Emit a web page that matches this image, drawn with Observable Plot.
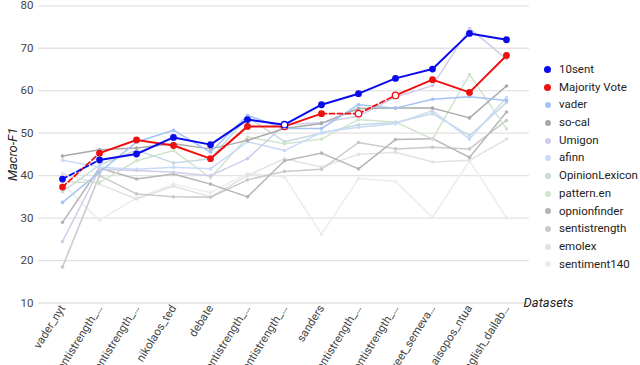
<!DOCTYPE html>
<html>
<head>
<meta charset="utf-8">
<script src="https://cdn.jsdelivr.net/npm/d3@7"></script>
<script src="https://cdn.jsdelivr.net/npm/@observablehq/plot@0.6"></script>
<style>
  body { margin: 0; background: #fff; font-family: Roboto, "Noto Sans", sans-serif; }
  #wrap { position: relative; width: 640px; height: 365px; }
  #legend { position: absolute; left: 544px; top: 61px; font-size: 11.5px; color: #222; }
  #legend .item { height: 17.7px; line-height: 17.7px; white-space: nowrap; display: flex; align-items: center; }
  #legend .sw { display: inline-block; border-radius: 50%; margin-right: 5px; }
</style>
</head>
<body>
<div id="wrap"><div id="chart"></div><div id="legend"></div></div>
<script>
const datasets = ["vader_nyt", "sentistrength_…", "sentistrength_…", "nikolaos_ted", "debate",
  "sentistrength_…", "sentistrength_…", "sanders", "sentistrength_…", "sentistrength_…",
  "tweet_semeva…", "aisopos_ntua", "english_dailab…"];
const seriesNames = ["10sent", "Majority Vote", "vader", "so-cal", "Umigon", "afinn",
  "OpinionLexicon", "pattern.en", "opnionfinder", "sentistrength", "emolex", "sentiment140"];
const seriesColors = ["#0a0aee", "#ee1010", "#a4c2f4", "#a9a9a9", "#cfcde9", "#c9daf8",
  "#c5d9df", "#d0e5cc", "#b5b5b5", "#c9c9c9", "#e2e2e2", "#ececec"];
const yTicks = [10, 20, 30, 40, 50, 60, 70, 80];

const tenSent        = [39.2, 43.7, 45.1, 49.0, 47.3, 53.2, 52.0, 56.7, 59.3, 62.9, 65.1, 73.5, 72.0];
const majorityVote   = [37.3, 45.3, 48.4, 47.1, 44.0, 51.6, 51.6, 54.6, 54.6, 58.9, 62.6, 59.6, 68.3];
const vader          = [33.7, 40.8, 47.9, 50.7, 45.5, 54.2, 51.1, 51.1, 56.7, 55.9, 58.0, 58.6, 57.7];
const soCal          = [44.6, 46.1, 46.5, 47.5, 46.3, 48.3, 51.1, 52.3, 55.8, 55.9, 55.9, 53.6, 61.1];
const umigon         = [24.5, 41.5, 41.2, 40.8, 40.0, 44.0, 52.0, 52.5, 54.0, 58.5, 61.2, 74.7, 67.5];
const afinn          = [43.6, 42.0, 41.5, 42.0, 41.6, 48.0, 45.9, 50.2, 51.4, 52.2, 55.3, 48.6, 58.4];
const opinionLexicon = [36.2, 42.5, 46.0, 43.0, 44.0, 53.8, 48.0, 50.0, 52.0, 52.5, 54.6, 49.4, 57.2];
const patternEn      = [38.5, 38.4, 43.5, 45.9, 39.5, 49.1, 47.5, 48.6, 53.2, 52.6, 48.6, 63.8, 51.0];
const opnionfinder   = [29.0, 41.8, 39.2, 40.4, 38.0, 35.0, 43.5, 45.3, 41.6, 48.5, 48.7, 44.3, 55.0];
const sentistrength  = [18.5, 40.0, 35.7, 35.0, 34.9, 39.0, 41.0, 41.5, 47.8, 46.3, 46.7, 46.3, 53.0];
const emolex         = [40.5, 38.0, 34.5, 37.5, 35.0, 40.0, 44.0, 42.0, 45.0, 45.5, 43.2, 43.6, 48.6];
const sentiment140   = [38.0, 29.5, 34.7, 38.0, 36.0, 40.5, 39.7, 26.2, 39.3, 38.6, 30.2, 43.5, 30.1];

// uncertain (hollow) points and dashed segments (segment k joins point k and k+1)
const tenSentHollow = [6];
const tenSentDashed = [0];
const majorityHollow = [6, 8, 9];
const majorityDashed = [0, 7, 8];

const allValues = [tenSent, majorityVote, vader, soCal, umigon, afinn, opinionLexicon,
  patternEn, opnionfinder, sentistrength, emolex, sentiment140];

// light series rows, drawn with the last series at the bottom
const lightRows = [];
for (let s = allValues.length - 1; s >= 2; s--) {
  allValues[s].forEach((v, i) => lightRows.push({name: seriesNames[s], i, v}));
}

const mainDefs = [
  {s: 1, hollow: majorityHollow, dashed: majorityDashed},
  {s: 0, hollow: tenSentHollow, dashed: tenSentDashed}
];
const segRows = [], dotRows = [];
for (const {s, hollow, dashed} of mainDefs) {
  const vals = allValues[s], name = seriesNames[s];
  for (let k = 0; k < vals.length - 1; k++) {
    const d = dashed.includes(k);
    segRows.push({name, seg: name + k, i: k, v: vals[k], dashed: d});
    segRows.push({name, seg: name + k, i: k + 1, v: vals[k + 1], dashed: d});
  }
  vals.forEach((v, i) => dotRows.push({name, i, v, hollow: hollow.includes(i)}));
}

const chart = Plot.plot({
  width: 640,
  height: 365,
  marginLeft: 38,
  marginRight: 111,
  marginTop: 5.3,
  marginBottom: 62.5,
  style: {fontFamily: "Roboto, 'Noto Sans', sans-serif", fontSize: "11.5px", color: "#444", background: "#fff", overflow: "visible"},
  x: {type: "point", domain: d3.range(datasets.length), padding: 0.5,
      tickFormat: i => datasets[i], tickRotate: -58, tickSize: 0, tickPadding: 3, label: null},
  y: {domain: [10, 80], ticks: yTicks, tickSize: 0, tickPadding: 5, label: null},
  color: {domain: seriesNames, range: seriesColors},
  marks: [
    Plot.ruleY(yTicks, {stroke: "#e2e2e2", strokeWidth: 1.3}),
    Plot.line(lightRows, {x: "i", y: "v", z: "name", stroke: "name", strokeWidth: 1.5}),
    Plot.dot(lightRows, {x: "i", y: "v", fill: "name", r: 1.8}),
    Plot.line(segRows.filter(d => !d.dashed), {x: "i", y: "v", z: "seg", stroke: "name", strokeWidth: 2}),
    Plot.line(segRows.filter(d => d.dashed), {x: "i", y: "v", z: "seg", stroke: "name", strokeWidth: 1.8, strokeDasharray: "5,3"}),
    Plot.dot(dotRows.filter(d => !d.hollow), {x: "i", y: "v", fill: "name", r: 3.4}),
    Plot.dot(dotRows.filter(d => d.hollow), {x: "i", y: "v", stroke: "name", fill: "white", r: 3.2, strokeWidth: 1.3}),
    Plot.text(["Macro-F1"], {text: d => d, frameAnchor: "left", textAnchor: "middle", rotate: -90, dx: -26, fontSize: 13, fontStyle: "italic", fill: "#222"}),
    Plot.text(["Datasets"], {text: d => d, frameAnchor: "bottom-right", textAnchor: "start", dx: -6, dy: 4, fontSize: 13, fontStyle: "italic", fill: "#222"})
  ]
});
document.getElementById("chart").appendChild(chart);

const legend = document.getElementById("legend");
seriesNames.forEach((name, s) => {
  const item = document.createElement("div");
  item.className = "item";
  const sw = document.createElement("span");
  sw.className = "sw";
  const size = s < 2 ? 7 : 6;
  sw.style.width = size + "px";
  sw.style.height = size + "px";
  sw.style.marginLeft = s < 2 ? "0px" : "0.5px";
  sw.style.marginRight = s < 2 ? "8px" : "8.5px";
  sw.style.background = seriesColors[s];
  item.appendChild(sw);
  item.appendChild(document.createTextNode(name));
  legend.appendChild(item);
});
</script>
</body>
</html>
